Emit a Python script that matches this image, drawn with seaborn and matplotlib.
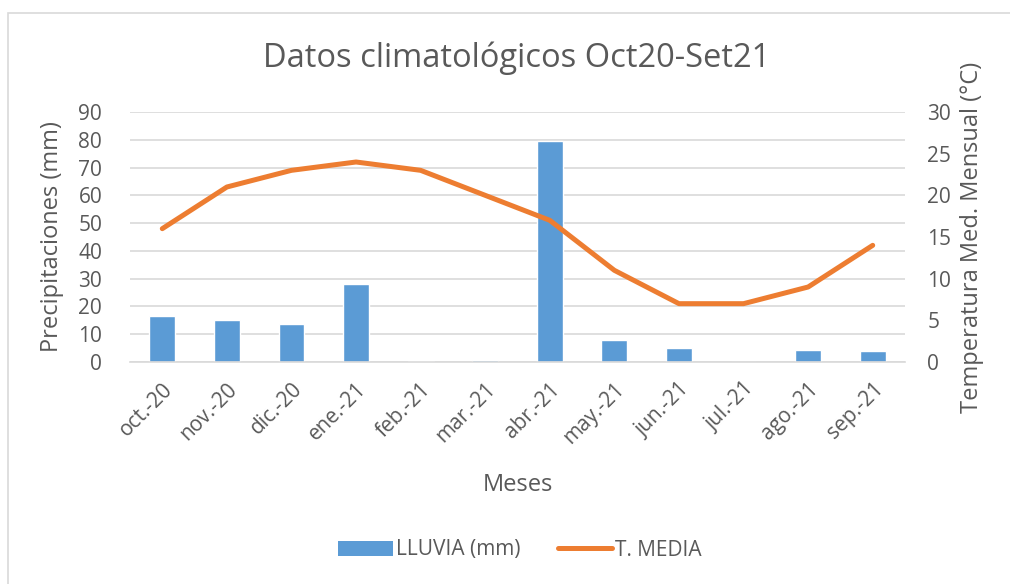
import matplotlib
matplotlib.use('Agg')
import matplotlib.pyplot as plt
from matplotlib.patches import Rectangle, Patch
from matplotlib.lines import Line2D
import seaborn as sns
import numpy as np
import pandas as pd

# Data
months = ['oct.-20', 'nov.-20', 'dic.-20', 'ene.-21', 'feb.-21', 'mar.-21',
          'abr.-21', 'may.-21', 'jun.-21', 'jul.-21', 'ago.-21', 'sep.-21']
lluvia = [16.4, 15.2, 13.6, 28.0, 0.3, 0.8, 79.5, 8.0, 5.2, 0.0, 4.2, 3.9]
t_media = [16, 21, 23, 24, 23, 20, 17, 11, 7, 7, 9, 14]
left_ticks = list(range(0, 100, 10))
right_ticks = list(range(0, 35, 5))

BAR_COLOR = '#5b9bd5'
LINE_COLOR = '#ed7d31'
TEXT_COLOR = '#595959'
GRID_COLOR = '#d9d9d9'

sns.set_theme(style='white')
plt.rcParams['font.family'] = ['Open Sans', 'DejaVu Sans']

df = pd.DataFrame({'mes': months, 'lluvia': lluvia, 't_media': t_media})

fig = plt.figure(figsize=(10.1, 5.84), dpi=100)
ax = fig.add_axes([130 / 1010, 1 - 362 / 584, 775 / 1010, 250 / 584])

sns.barplot(data=df, x='mes', y='lluvia', color=BAR_COLOR, width=0.4,
            saturation=1, ax=ax, zorder=2)
ax.set_ylim(0, 90)
ax.set_yticks(left_ticks)
ax.set_xlim(-0.5, len(months) - 0.5)
ax.grid(axis='y', color=GRID_COLOR, linewidth=1.2, zorder=0)
ax.set_axisbelow(True)

ax2 = ax.twinx()
sns.lineplot(data=df, x='mes', y='t_media', color=LINE_COLOR, linewidth=3.6,
             sort=False, ax=ax2, solid_capstyle='round')
ax2.set_ylim(0, 30)
ax2.set_yticks(right_ticks)
ax2.set_xlim(-0.5, len(months) - 0.5)

for a in (ax, ax2):
    for s in a.spines.values():
        s.set_visible(False)
ax.spines['bottom'].set_visible(True)
ax.spines['bottom'].set_color(GRID_COLOR)
ax.spines['bottom'].set_linewidth(1.2)

# category ticks between bars, like the spreadsheet chart
ax.set_xticks(np.arange(len(months)))
ax.set_xticklabels(months, rotation=45, ha='right', rotation_mode='anchor')
ax.set_xticks(np.arange(-0.5, len(months), 1), minor=True)
ax.tick_params(axis='x', which='major', length=0, pad=12, labelsize=15,
               labelcolor=TEXT_COLOR)
ax.tick_params(axis='x', which='minor', length=6, width=1.2, color=GRID_COLOR,
               direction='out')
ax.tick_params(axis='y', length=0, pad=20, labelsize=15, labelcolor=TEXT_COLOR)
ax2.tick_params(axis='y', length=0, pad=16, labelsize=15, labelcolor=TEXT_COLOR)

ax.set_xlabel('Meses', fontsize=17, color=TEXT_COLOR, labelpad=18)
ax.set_ylabel('Precipitaciones (mm)', fontsize=17, color=TEXT_COLOR, labelpad=10)
ax2.set_ylabel('Temperatura Med. Mensual (°C)', fontsize=17, color=TEXT_COLOR,
               labelpad=6)

fig.text(517 / 1010, 1 - 58 / 584, 'Datos climatológicos Oct20-Set21',
         ha='center', va='center', fontsize=23.5, color=TEXT_COLOR)

handles = [Patch(facecolor=BAR_COLOR, edgecolor='none'),
           Line2D([0], [0], color=LINE_COLOR, linewidth=3.6, solid_capstyle='round')]
fig.legend(handles, ['LLUVIA (mm)', 'T. MEDIA'], loc='center',
           bbox_to_anchor=(520 / 1010, 1 - 550 / 584), ncol=2, frameon=False,
           fontsize=15, labelcolor=TEXT_COLOR, handlelength=2.6,
           handletextpad=0.15, columnspacing=1.8)

# light frame of the chart area (cropped at right and bottom)
fig.patches.append(Rectangle((8 / 1010, -0.1), 1.2, 1 - 13 / 584 + 0.1,
                             transform=fig.transFigure, fill=False,
                             edgecolor=GRID_COLOR, linewidth=1.2))

fig.savefig('out.png', dpi=100)
plt.close(fig)
